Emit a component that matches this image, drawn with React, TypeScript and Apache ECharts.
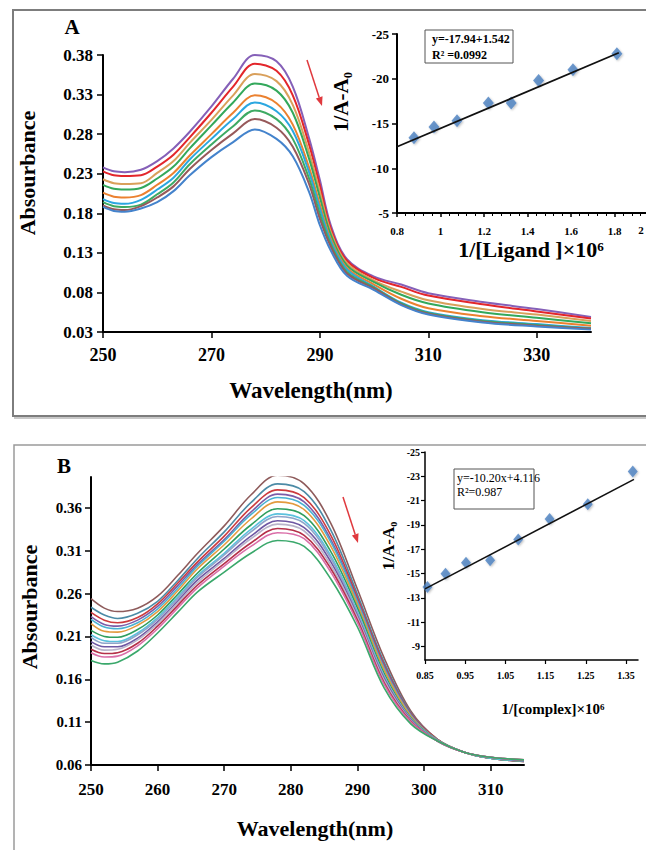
import React, { useEffect, useRef } from 'react';
import * as echarts from 'echarts';

const SERIF = '"Liberation Serif", "Times New Roman", serif';

// ---------- Panel A: main spectra ----------
const wavelengthsA = [250, 252, 254, 257, 260, 263, 266, 270, 274, 278, 282, 285, 288, 290, 292, 295, 300, 305, 310, 320, 330, 340];
const aPurple = [0.238, 0.233, 0.232, 0.235, 0.246, 0.262, 0.283, 0.315, 0.350, 0.380, 0.372, 0.340, 0.275, 0.222, 0.165, 0.122, 0.100, 0.090, 0.079, 0.068, 0.059, 0.049];
const aRed = [0.233, 0.228, 0.227, 0.228, 0.239, 0.254, 0.276, 0.307, 0.340, 0.369, 0.360, 0.329, 0.267, 0.215, 0.161, 0.120, 0.098, 0.087, 0.076, 0.065, 0.056, 0.047];
const aTan = [0.223, 0.218, 0.217, 0.218, 0.231, 0.246, 0.269, 0.298, 0.329, 0.356, 0.347, 0.317, 0.257, 0.207, 0.157, 0.117, 0.095, 0.081, 0.070, 0.059, 0.052, 0.044];
const aGreen = [0.216, 0.211, 0.210, 0.212, 0.224, 0.239, 0.262, 0.291, 0.320, 0.344, 0.335, 0.307, 0.249, 0.200, 0.153, 0.114, 0.093, 0.077, 0.066, 0.055, 0.048, 0.041];
const aOrange = [0.206, 0.201, 0.200, 0.203, 0.216, 0.231, 0.253, 0.280, 0.307, 0.329, 0.319, 0.292, 0.238, 0.191, 0.148, 0.111, 0.090, 0.072, 0.060, 0.050, 0.044, 0.038];
const aCyan = [0.198, 0.193, 0.192, 0.197, 0.210, 0.225, 0.248, 0.274, 0.299, 0.320, 0.309, 0.284, 0.232, 0.186, 0.145, 0.109, 0.087, 0.067, 0.055, 0.045, 0.040, 0.035];
const aGreen2 = [0.194, 0.189, 0.188, 0.191, 0.204, 0.219, 0.242, 0.267, 0.290, 0.310, 0.299, 0.274, 0.224, 0.179, 0.141, 0.106, 0.086, 0.066, 0.054, 0.044, 0.039, 0.034];
const aBrown = [0.190, 0.185, 0.184, 0.189, 0.200, 0.214, 0.236, 0.260, 0.281, 0.299, 0.288, 0.264, 0.217, 0.173, 0.138, 0.104, 0.085, 0.065, 0.053, 0.043, 0.038, 0.034];
const aBlue = [0.188, 0.183, 0.182, 0.186, 0.194, 0.208, 0.228, 0.251, 0.270, 0.286, 0.274, 0.252, 0.207, 0.165, 0.133, 0.101, 0.083, 0.064, 0.052, 0.042, 0.037, 0.033];
const curvesA = [aPurple, aRed, aTan, aGreen, aOrange, aCyan, aGreen2, aBrown, aBlue];
const colorsA = ['#8560B8', '#E3262B', '#D9A05B', '#33A85B', '#EB8130', '#2BA7E0', '#3DAA63', '#97595A', '#4483CC'];
const xTicksA = [250, 270, 290, 310, 330];
const yTicksA = [0.03, 0.08, 0.13, 0.18, 0.23, 0.28, 0.33, 0.38];

// ---------- Panel A: inset ----------
const ligandX = [0.878, 0.970, 1.076, 1.220, 1.325, 1.451, 1.609, 1.811];
const ligandY = [-13.4, -14.6, -15.3, -17.3, -17.3, -19.8, -21.0, -22.8];
const fitAX = [0.8, 1.82];
const fitAY = [-12.4, -22.9];
const xLabelsAi = [0.8, 1.0, 1.2, 1.4, 1.6, 1.8];
const lastLabelAi = '2';

// ---------- Panel B: main spectra ----------
const wavelengthsB = [250, 252, 254, 257, 260, 263, 266, 270, 274, 278, 282, 286, 290, 294, 298, 302, 306, 310, 315];
const b0 = [0.254, 0.243, 0.239, 0.243, 0.257, 0.281, 0.307, 0.339, 0.375, 0.398, 0.388, 0.342, 0.265, 0.185, 0.123, 0.090, 0.075, 0.068, 0.064];
const b1 = [0.244, 0.235, 0.231, 0.237, 0.251, 0.275, 0.301, 0.332, 0.366, 0.388, 0.379, 0.334, 0.259, 0.180, 0.121, 0.090, 0.075, 0.068, 0.064];
const b2 = [0.238, 0.229, 0.226, 0.232, 0.248, 0.272, 0.297, 0.327, 0.360, 0.381, 0.372, 0.328, 0.255, 0.177, 0.120, 0.090, 0.075, 0.068, 0.064];
const b3 = [0.233, 0.224, 0.222, 0.229, 0.245, 0.269, 0.294, 0.323, 0.355, 0.376, 0.367, 0.323, 0.252, 0.175, 0.119, 0.089, 0.075, 0.068, 0.065];
const b4 = [0.230, 0.221, 0.219, 0.226, 0.242, 0.266, 0.292, 0.321, 0.352, 0.372, 0.363, 0.320, 0.250, 0.173, 0.118, 0.089, 0.075, 0.068, 0.065];
const b5 = [0.225, 0.216, 0.215, 0.223, 0.239, 0.263, 0.289, 0.317, 0.347, 0.367, 0.358, 0.315, 0.247, 0.171, 0.117, 0.089, 0.075, 0.068, 0.065];
const b6 = [0.217, 0.210, 0.209, 0.218, 0.235, 0.259, 0.284, 0.312, 0.340, 0.359, 0.351, 0.309, 0.243, 0.167, 0.115, 0.089, 0.075, 0.068, 0.065];
const b7 = [0.212, 0.205, 0.204, 0.214, 0.232, 0.256, 0.281, 0.307, 0.335, 0.353, 0.345, 0.304, 0.239, 0.164, 0.114, 0.089, 0.075, 0.068, 0.065];
const b8 = [0.209, 0.202, 0.202, 0.212, 0.230, 0.254, 0.279, 0.305, 0.332, 0.350, 0.342, 0.301, 0.237, 0.163, 0.114, 0.088, 0.075, 0.069, 0.065];
const b9 = [0.204, 0.198, 0.198, 0.208, 0.227, 0.251, 0.276, 0.301, 0.327, 0.345, 0.337, 0.297, 0.234, 0.161, 0.113, 0.088, 0.075, 0.069, 0.065];
const b10 = [0.200, 0.194, 0.195, 0.206, 0.225, 0.249, 0.273, 0.299, 0.324, 0.341, 0.333, 0.293, 0.232, 0.159, 0.112, 0.088, 0.075, 0.069, 0.066];
const b11 = [0.195, 0.190, 0.191, 0.202, 0.222, 0.246, 0.270, 0.295, 0.319, 0.336, 0.328, 0.289, 0.229, 0.156, 0.111, 0.088, 0.075, 0.069, 0.066];
const b12 = [0.191, 0.186, 0.187, 0.199, 0.219, 0.243, 0.267, 0.292, 0.315, 0.331, 0.324, 0.285, 0.226, 0.154, 0.110, 0.088, 0.075, 0.069, 0.066];
const b13 = [0.182, 0.178, 0.180, 0.193, 0.214, 0.238, 0.262, 0.285, 0.307, 0.322, 0.315, 0.277, 0.221, 0.150, 0.108, 0.088, 0.075, 0.069, 0.066];
const curvesB = [b0, b1, b2, b3, b4, b5, b6, b7, b8, b9, b10, b11, b12, b13];
const colorsB = ['#8E5B5B', '#4C8BA6', '#CC3B3E', '#7C5CA8', '#49B1D2', '#E39A3F', '#2F9E5E', '#5BC1DD', '#8FA4CA', '#6E57A3', '#B9B4CA', '#B53049', '#DA6EA8', '#3AA86B'];
const xTicksB = [250, 260, 270, 280, 290, 300, 310];
const yTicksB = [0.06, 0.11, 0.16, 0.21, 0.26, 0.31, 0.36];

// ---------- Panel B: inset ----------
const complexX = [0.856, 0.901, 0.952, 1.012, 1.082, 1.160, 1.255, 1.367];
const complexY = [-13.9, -15.0, -15.9, -16.1, -17.8, -19.5, -20.7, -23.4];
const fitBX = [0.85, 1.37];
const fitBY = [-13.75, -22.75];
const xTicksBi = [0.85, 0.95, 1.05, 1.15, 1.25, 1.35];
const yTicksBi = [-25, -23, -21, -19, -17, -15, -13, -11, -9];

const bold = (size: number) => ({ fontFamily: SERIF, fontWeight: 'bold' as const, fontSize: size, color: '#000' });

function arrow(x1: number, y1: number, x2: number, y2: number) {
  const dx = x2 - x1, dy = y2 - y1;
  const len = Math.sqrt(dx * dx + dy * dy);
  const ux = dx / len, uy = dy / len;
  const hl = 9, hw = 3.5;
  const bx = x2 - ux * hl, by = y2 - uy * hl;
  return [
    { type: 'line', shape: { x1, y1, x2: bx, y2: by }, style: { stroke: '#E0393E', lineWidth: 1.5 } },
    { type: 'polygon', shape: { points: [[x2, y2], [bx - uy * hw, by + ux * hw], [bx + uy * hw, by - ux * hw]] }, style: { fill: '#E0393E' } },
  ];
}

function valueAxis(extra: any) {
  return {
    type: 'value',
    splitLine: { show: false },
    axisLine: { show: true, onZero: false, lineStyle: { color: '#000', width: 2 } },
    axisTick: { show: true, length: 5, lineStyle: { color: '#000', width: 1.5 } },
    ...extra,
  };
}

export default function App() {
  const ref = useRef<HTMLDivElement>(null);

  useEffect(() => {
    if (!ref.current) return;
    const chart = echarts.init(ref.current, null, { renderer: 'svg', width: 700, height: 850 });

    const series: any[] = [];
    curvesA.forEach((c, k) => {
      series.push({
        type: 'line', xAxisIndex: 0, yAxisIndex: 0, smooth: 0.35, showSymbol: false, symbol: 'none', silent: true,
        lineStyle: { width: 2, color: colorsA[k] },
        data: wavelengthsA.map((w, i) => [w, c[i]]),
      });
    });
    curvesB.forEach((c, k) => {
      series.push({
        type: 'line', xAxisIndex: 2, yAxisIndex: 2, smooth: 0.35, showSymbol: false, symbol: 'none', silent: true,
        lineStyle: { width: 1.6, color: colorsB[k] },
        data: wavelengthsB.map((w, i) => [w, c[i]]),
      });
    });
    series.push({
      type: 'line', xAxisIndex: 1, yAxisIndex: 1, showSymbol: false, symbol: 'none', silent: true,
      lineStyle: { width: 1.8, color: '#111' }, data: fitAX.map((x, i) => [x, fitAY[i]]),
    });
    series.push({
      type: 'scatter', xAxisIndex: 1, yAxisIndex: 1, symbol: 'diamond', symbolSize: [11, 13], silent: true,
      itemStyle: { color: '#4A7FC1', shadowColor: 'rgba(0,0,0,0.3)', shadowBlur: 2, shadowOffsetX: 1, shadowOffsetY: 1 },
      data: ligandX.map((x, i) => [x, ligandY[i]]),
    });
    series.push({
      type: 'line', xAxisIndex: 3, yAxisIndex: 3, showSymbol: false, symbol: 'none', silent: true,
      lineStyle: { width: 1.6, color: '#111' }, data: fitBX.map((x, i) => [x, fitBY[i]]),
    });
    series.push({
      type: 'scatter', xAxisIndex: 3, yAxisIndex: 3, symbol: 'diamond', symbolSize: [10, 12], silent: true,
      itemStyle: { color: '#4A7FC1', shadowColor: 'rgba(0,0,0,0.3)', shadowBlur: 2, shadowOffsetX: 1, shadowOffsetY: 1 },
      data: complexX.map((x, i) => [x, complexY[i]]),
    });

    const graphic: any[] = [
      // panel frames
      { type: 'rect', shape: { x: 13, y: 10, width: 720, height: 406 }, style: { fill: 'none', stroke: '#7d7d7d', lineWidth: 2 } },
      { type: 'line', shape: { x1: 14, y1: 418, x2: 720, y2: 418 }, style: { stroke: '#c8c8c8', lineWidth: 2 } },
      { type: 'rect', shape: { x: 14, y: 445, width: 720, height: 430 }, style: { fill: 'none', stroke: '#9a9a9a', lineWidth: 1.5 } },
      // panel letters
      { type: 'text', style: { text: 'A', x: 72, y: 27, textAlign: 'center', textVerticalAlign: 'middle', font: `bold 21px ${SERIF}`, fill: '#000' } },
      { type: 'text', style: { text: 'B', x: 64, y: 466, textAlign: 'center', textVerticalAlign: 'middle', font: `bold 21px ${SERIF}`, fill: '#000' } },
      // axis titles panel A
      { type: 'text', x: 27, y: 173, rotation: Math.PI / 2, style: { text: 'Absourbance', x: 0, y: 0, textAlign: 'center', textVerticalAlign: 'middle', font: `bold 22px ${SERIF}`, fill: '#000' } },
      { type: 'text', style: { text: 'Wavelength(nm)', x: 311, y: 390, textAlign: 'center', textVerticalAlign: 'middle', font: `bold 23px ${SERIF}`, fill: '#000' } },
      { type: 'text', x: 341, y: 102, rotation: Math.PI / 2, style: { text: '1/A-A₀', x: 0, y: 0, textAlign: 'center', textVerticalAlign: 'middle', font: `bold 21px ${SERIF}`, fill: '#000' } },
      { type: 'text', style: { text: '1/[Ligand ]×10⁶', x: 531, y: 249, textAlign: 'center', textVerticalAlign: 'middle', font: `bold 22px ${SERIF}`, fill: '#000' } },
      // last inset tick label, kept just inside the frame edge
      { type: 'text', style: { text: lastLabelAi, x: 641, y: 230, textAlign: 'center', textVerticalAlign: 'middle', font: `bold 11px ${SERIF}`, fill: '#000' } },
      // equation box A
      { type: 'rect', shape: { x: 425, y: 30, width: 88, height: 33 }, style: { fill: '#fff', stroke: '#555', lineWidth: 1 } },
      { type: 'text', style: { text: 'y=-17.94+1.542', x: 432, y: 39, textAlign: 'left', textVerticalAlign: 'middle', font: `bold 12px ${SERIF}`, fill: '#000' } },
      { type: 'text', style: { text: 'R² =0.0992', x: 432, y: 55, textAlign: 'left', textVerticalAlign: 'middle', font: `bold 12px ${SERIF}`, fill: '#000' } },
      // axis titles panel B
      { type: 'text', x: 29, y: 607, rotation: Math.PI / 2, style: { text: 'Absourbance', x: 0, y: 0, textAlign: 'center', textVerticalAlign: 'middle', font: `bold 22px ${SERIF}`, fill: '#000' } },
      { type: 'text', style: { text: 'Wavelength(nm)', x: 315, y: 828, textAlign: 'center', textVerticalAlign: 'middle', font: `bold 22px ${SERIF}`, fill: '#000' } },
      { type: 'text', x: 388, y: 546, rotation: Math.PI / 2, style: { text: '1/A-A₀', x: 0, y: 0, textAlign: 'center', textVerticalAlign: 'middle', font: `bold 17px ${SERIF}`, fill: '#000' } },
      { type: 'text', style: { text: '1/[complex]×10⁶', x: 553, y: 709, textAlign: 'center', textVerticalAlign: 'middle', font: `bold 15px ${SERIF}`, fill: '#000' } },
      // equation box B
      { type: 'rect', shape: { x: 454, y: 469, width: 80, height: 40 }, style: { fill: '#fff', stroke: '#555', lineWidth: 1 } },
      { type: 'text', style: { text: 'y=-10.20x+4.116', x: 457, y: 478, textAlign: 'left', textVerticalAlign: 'middle', font: `12px ${SERIF}`, fill: '#000' } },
      { type: 'text', style: { text: 'R²=0.987', x: 457, y: 492, textAlign: 'left', textVerticalAlign: 'middle', font: `12px ${SERIF}`, fill: '#000' } },
      // arrows
      ...arrow(307, 60, 322, 106),
      ...arrow(343, 497, 358, 543),
    ];

    chart.setOption({
      animation: false,
      backgroundColor: '#fff',
      grid: [
        { left: 103, top: 55, width: 488, height: 277, outerBoundsMode: 'none' },
        { left: 397, top: 34, width: 261, height: 179, outerBoundsMode: 'none' },
        { left: 91, top: 477, width: 433, height: 288, outerBoundsMode: 'none' },
        { left: 425, top: 452, width: 213, height: 208, outerBoundsMode: 'none' },
      ],
      xAxis: [
        valueAxis({
          gridIndex: 0, min: 250, max: 340,
          axisTick: { show: true, length: 6, customValues: xTicksA, lineStyle: { color: '#000', width: 1.5 } },
          axisLabel: { ...bold(18), margin: 14, customValues: xTicksA, formatter: (v: number) => String(v) },
        }),
        valueAxis({
          gridIndex: 1, min: 0.8, max: 2.0, interval: 0.2,
          axisTick: { show: true, length: 4, lineStyle: { color: '#000', width: 1.5 } },
          minorTick: { show: true, splitNumber: 5, length: 3, lineStyle: { color: '#000', width: 1 } },
          axisLabel: { ...bold(11), margin: 12, customValues: xLabelsAi, formatter: (v: number) => String(Math.round(v * 10) / 10) },
        }),
        valueAxis({
          gridIndex: 2, min: 250, max: 315,
          axisTick: { show: true, length: 6, customValues: xTicksB, lineStyle: { color: '#000', width: 1.5 } },
          axisLabel: { ...bold(17), margin: 16, customValues: xTicksB, formatter: (v: number) => String(v) },
        }),
        valueAxis({
          gridIndex: 3, min: 0.85, max: 1.38,
          axisLine: { show: true, onZero: false, lineStyle: { color: '#000', width: 1.5 } },
          axisTick: { show: true, length: 4, customValues: xTicksBi, lineStyle: { color: '#000', width: 1.2 } },
          axisLabel: { ...bold(10), margin: 10, customValues: xTicksBi, formatter: (v: number) => v.toFixed(2) },
        }),
      ],
      yAxis: [
        valueAxis({
          gridIndex: 0, min: 0.03, max: 0.38,
          axisTick: { show: true, length: 6, customValues: yTicksA, lineStyle: { color: '#000', width: 1.5 } },
          axisLabel: { ...bold(17), margin: 10, customValues: yTicksA, formatter: (v: number) => v.toFixed(2) },
        }),
        valueAxis({
          gridIndex: 1, min: -25, max: -5, interval: 5, inverse: true,
          axisTick: { show: true, length: 5, lineStyle: { color: '#000', width: 1.5 } },
          axisLabel: { ...bold(13), margin: 8, formatter: (v: number) => String(v) },
        }),
        valueAxis({
          gridIndex: 2, min: 0.06, max: 0.396,
          axisTick: { show: true, length: 6, customValues: yTicksB, lineStyle: { color: '#000', width: 1.5 } },
          axisLabel: { ...bold(15), margin: 9, customValues: yTicksB, formatter: (v: number) => v.toFixed(2) },
        }),
        valueAxis({
          gridIndex: 3, min: -25, max: -7.9, inverse: true,
          axisLine: { show: true, onZero: false, lineStyle: { color: '#000', width: 1.5 } },
          axisTick: { show: true, length: 4, customValues: yTicksBi, lineStyle: { color: '#000', width: 1.2 } },
          axisLabel: { ...bold(10), margin: 5, customValues: yTicksBi, formatter: (v: number) => String(v) },
        }),
      ],
      series,
      graphic,
    });

    return () => chart.dispose();
  }, []);

  return (
    <div style={{ position: 'absolute', left: 0, top: 0, width: 646, height: 850, overflow: 'hidden', background: '#fff' }}>
      <div ref={ref} style={{ width: 700, height: 850 }} />
    </div>
  );
}
